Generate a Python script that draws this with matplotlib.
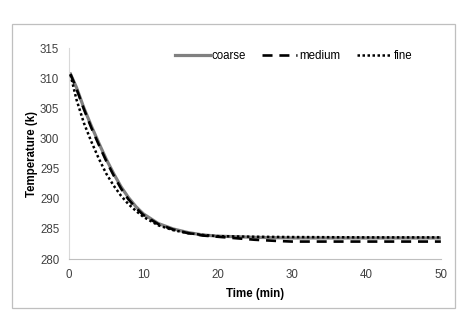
import matplotlib
matplotlib.use("Agg")
import matplotlib.pyplot as plt
from matplotlib.patches import Rectangle

# data
t_coarse = [0.2, 1, 2, 3, 4, 5, 6, 7, 8, 9, 10, 12, 14, 16, 18, 20, 25, 30, 40, 50]
T_coarse = [310.7, 308.5, 305.1, 302.1, 299.3, 296.6, 294.2, 292.0, 290.2, 288.7,
            287.5, 285.9, 285.0, 284.4, 284.0, 283.8, 283.6, 283.5, 283.5, 283.5]

t_medium = [0.2, 1, 2, 3, 4, 5, 6, 7, 8, 9, 10, 12, 14, 16, 18, 20, 22, 25, 28, 30, 40, 50]
T_medium = [310.7, 308.3, 304.9, 301.8, 299.0, 296.3, 293.9, 291.7, 289.9, 288.5,
            287.3, 285.8, 284.9, 284.3, 283.9, 283.7, 283.5, 283.2, 283.0, 282.9, 282.9, 282.9]

t_fine = [0.2, 1, 2, 3, 4, 5, 6, 7, 8, 9, 10, 12, 14, 16, 18, 20, 25, 30, 40, 50]
T_fine = [310.6, 306.5, 302.6, 299.5, 296.7, 294.2, 292.2, 290.5, 289.1, 288.0,
          287.0, 285.6, 284.8, 284.3, 284.0, 283.8, 283.7, 283.65, 283.6, 283.6]

x_ticks = [0, 10, 20, 30, 40, 50]
y_ticks = [280, 285, 290, 295, 300, 305, 310, 315]

plt.rcParams['font.family'] = ['Liberation Sans', 'DejaVu Sans']
plt.rcParams['font.size'] = 8.3

fig = plt.figure(figsize=(4.66, 3.23), dpi=100)
ax = fig.add_axes([0.148, 0.198, 0.798, 0.653])

ax.plot(t_coarse, T_coarse, color='#808080', lw=2.3, label='coarse', zorder=2)
ax.plot(t_medium, T_medium, color='black', lw=1.9, dashes=(3.8, 2.6), label='medium', zorder=3)
ax.plot(t_fine, T_fine, color='black', lw=1.8, linestyle=(0, (1, 1)), label='fine', zorder=4)

ax.set_xlim(0, 50)
ax.set_ylim(280, 315)
ax.set_xticks(x_ticks)
ax.set_yticks(y_ticks)
ax.tick_params(length=0, pad=7, colors='#404040', labelsize=8.3)
for s in ['top', 'right']:
    ax.spines[s].set_visible(False)
ax.spines['left'].set_color('#d9d9d9')
ax.spines['bottom'].set_color('#bfbfbf')

ax.set_xlabel('Time (min)', fontweight='bold', fontsize=8.3, labelpad=5)
ax.set_ylabel('Temperature (k)', fontweight='bold', fontsize=8.3, labelpad=1)

fig.legend(loc='center', bbox_to_anchor=(0.63, 0.828), ncol=3, frameon=False,
           handlelength=3.0, handletextpad=0.2, columnspacing=1.4, fontsize=8.3)

# outer chart frame
fig.patches.append(Rectangle((12 / 466, 1 - 308 / 323), 443 / 466, 284 / 323,
                             transform=fig.transFigure, fill=False,
                             edgecolor='#bfbfbf', lw=0.9))

fig.savefig('out.png', dpi=100)
